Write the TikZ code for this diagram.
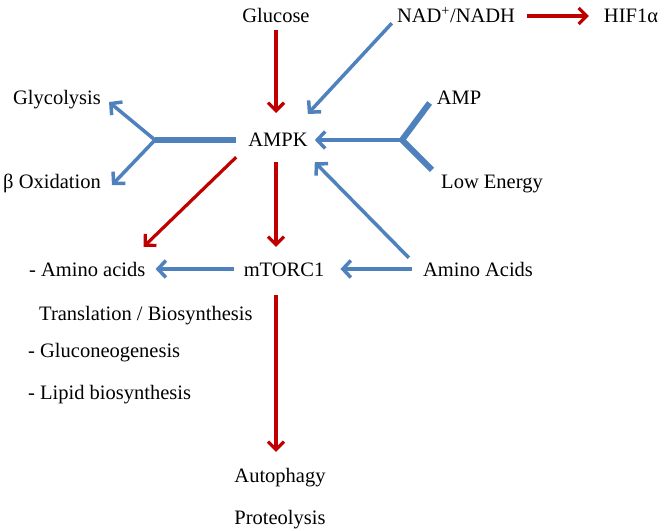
\documentclass[tikz,border=0pt]{standalone}
\usepackage{fontspec}
\setmainfont{Liberation Serif}
\usetikzlibrary{arrows.meta,calc}
\definecolor{arrblue}{HTML}{4F81BD}
\definecolor{arrred}{HTML}{C00000}
\begin{document}
\begin{tikzpicture}[x=1bp, y=-1bp,
	every node/.style={inner sep=0pt, text height=14bp, text depth=0pt, font=\fontsize{20.5bp}{24bp}\selectfont},
	blu/.style={draw=arrblue, line width=3.5bp, -{Straight Barb[length=8bp,width=17bp]}},
	rd/.style={draw=arrred, line width=3.2bp, -{Straight Barb[length=8bp,width=16bp]}},
	thk/.style={draw=arrblue, line width=6bp}]
	\useasboundingbox (0,0) rectangle (666,531);
	% top row
	\node (glucose) at (276,16) {Glucose};
	\node (nad) at (456,16) {NAD\textsuperscript{+}/NADH};
	\node (hif) at (631,16) {HIF1α};
	% AMPK row
	\node (ampk) at (278,140) {AMPK};
	\node (glyco) at (57,98) {Glycolysis};
	\node (boxid) at (52,182) {β Oxidation};
	\node (amp) at (459,98) {AMP};
	\node (lowe) at (492,182) {Low Energy};
	% mTORC1 row
	\node (mtorc) at (284,269) {mTORC1};
	\node[anchor=west] (aminoL) at (29,269) {- Amino acids};
	\node (aminoR) at (478,269) {Amino Acids};
	\node[anchor=west] (transl) at (39,313) {Translation / Biosynthesis};
	\foreach \n/\t/\y in {glucon/Gluconeogenesis/350, lipid/Lipid biosynthesis/392}{
		\node[anchor=west] (\n) at (28,\y) {- \t};
	}
	\foreach \n/\t/\y in {auto/Autophagy/475, proteo/Proteolysis/517}{
		\node (\n) at (280,\y) {\t};
	}
	
	\coordinate (lsplit) at (155,140);
	\coordinate (rsplit) at (402,140);
	
	% red arrows
	\draw[rd, shorten <=14bp, shorten >=27bp] (glucose.center) -- (glucose.center |- ampk.center);
	\draw[rd, shorten <=12bp, shorten >=15bp] (nad.east) -- (hif.west);
	\draw[rd, shorten <=15bp, shorten >=15bp] (ampk.south -| glucose.center) -- (mtorc.north -| glucose.center);
	\draw[rd] ($(ampk.south west)+(-12,10)$) -- ($(aminoL.north east)+(-2,-15)$);
	\draw[rd, shorten <=19bp, shorten >=16bp] (mtorc.south -| glucose.center) -- (auto.north -| glucose.center);
	
	% blue arrows
	\draw[blu] ($(nad.south west)+(-5,0)$) -- ($(ampk.north east)+(0,-19)$);
	\draw[blu] ($(aminoR.north west)+(-14,-4)$) -- ($(ampk.south east)+(7,15)$);
	\draw[blu, shorten <=11bp, shorten >=16bp] (aminoR.west) -- (mtorc.east);
	\draw[blu, shorten <=10bp, shorten >=10bp] (mtorc.west) -- (aminoL.east);
	
	% branches
	\draw[thk] ($(ampk.west)+(-12,0)$) -- (lsplit);
	\draw[blu] (lsplit) -- ($(glyco.east)+(8,4)$);
	\draw[blu] (lsplit) -- ($(boxid.east)+(11,3)$);
	\draw[thk, line join=round] ($(amp.west)+(-7,5)$) -- (rsplit) -- ($(lowe.north west)+(-9,-5)$);
	\draw[blu, shorten >=7bp] (rsplit) -- (ampk.east);
\end{tikzpicture}
\end{document}
